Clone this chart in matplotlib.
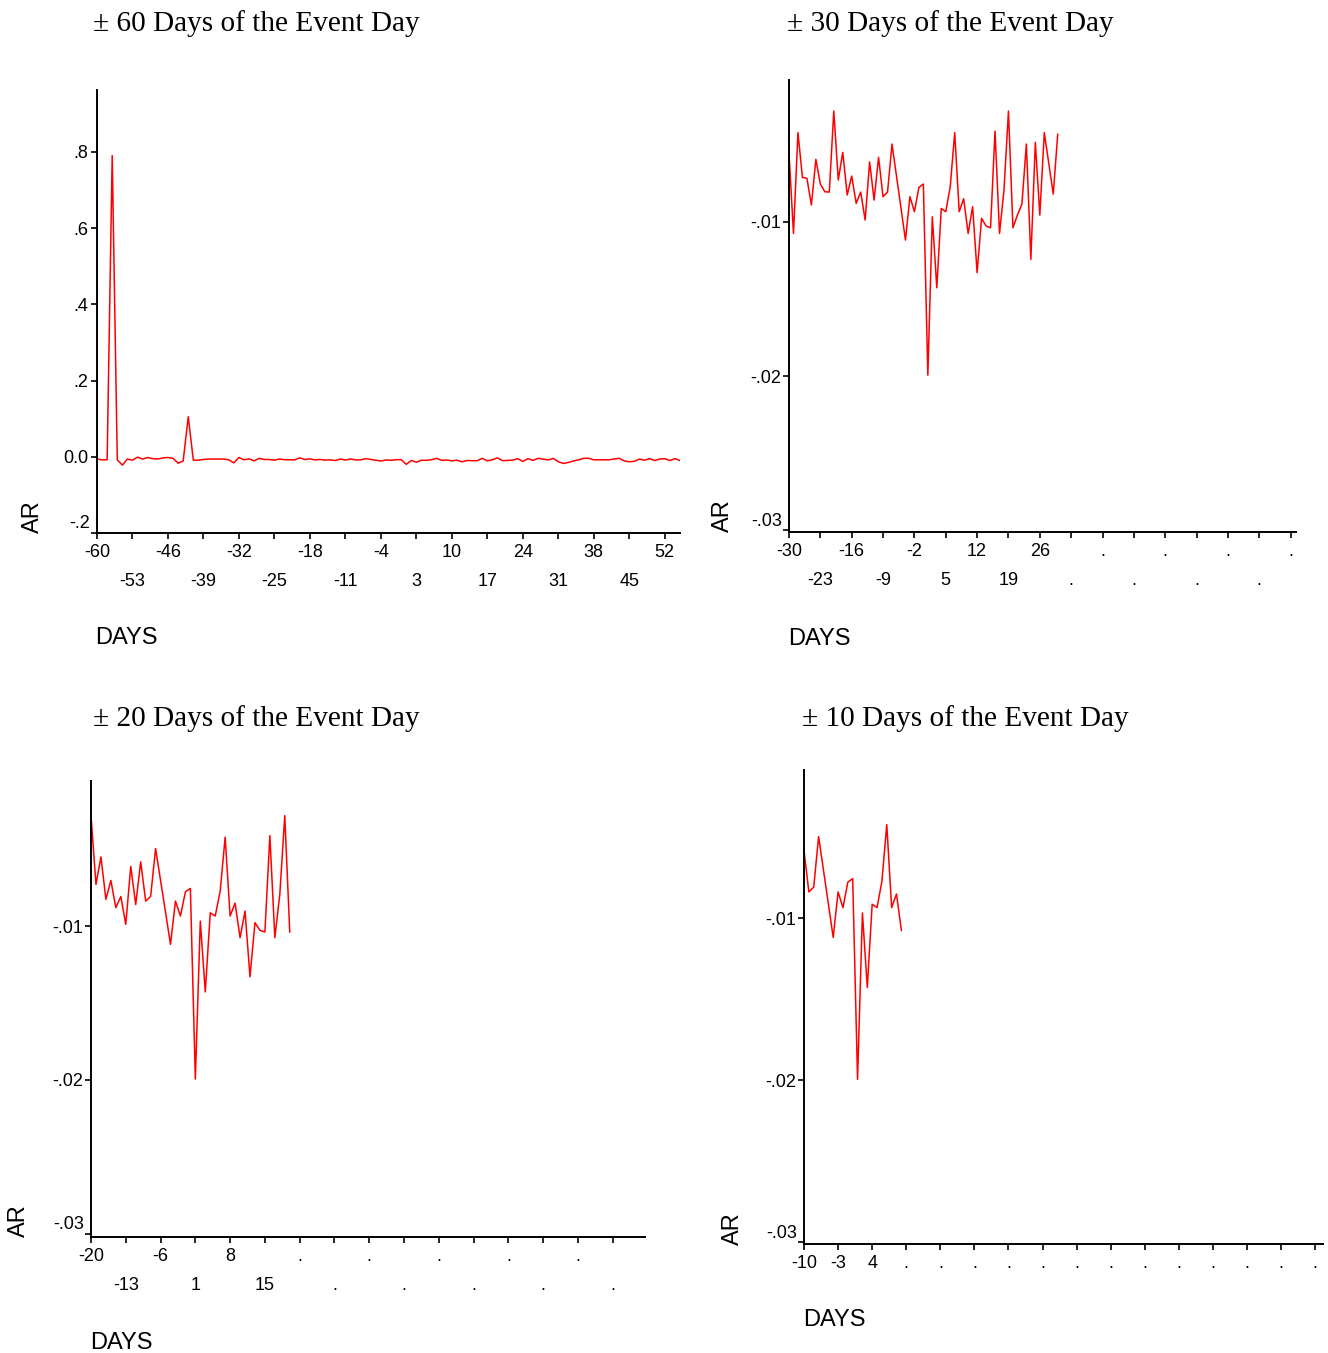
import numpy as np
import matplotlib
matplotlib.use("Agg")
import matplotlib.pyplot as plt

plt.rcParams.update({
    "font.family": ["Liberation Sans", "DejaVu Sans"],
    "axes.linewidth": 1.4,
    "xtick.direction": "out",
    "ytick.direction": "out",
})

# ── Data: daily abnormal returns (AR) ────────────────────────────────
# days -30 ... 30 (shared by the 30 / 20 / 10 day windows)
ar_core = [
    -0.00557, -0.01076, -0.00423, -0.00713, -0.00719, -0.00892, -0.00596,
    -0.00756, -0.00806, -0.00808, -0.00283, -0.00730, -0.00551, -0.00827,
    -0.00704, -0.00881, -0.00808, -0.00989, -0.00613, -0.00860, -0.00583,
    -0.00838, -0.00808, -0.00497, -0.00704, -0.00911, -0.01119, -0.00838,
    -0.00935, -0.00778, -0.00756, -0.01994, -0.00968, -0.01428, -0.00914,
    -0.00935, -0.00773, -0.00423, -0.00935, -0.00851, -0.01076, -0.00903,
    -0.01330, -0.00978, -0.01028, -0.01039, -0.00413, -0.01076, -0.00795,
    -0.00283, -0.01039, -0.00957, -0.00886, -0.00497, -0.01244, -0.00486,
    -0.00957, -0.00423, -0.00622, -0.00821, -0.00434,
]
# days -60 ... -31 (only in the 60 day window)
ar_pre = [
    -0.006, -0.008, -0.008, 0.790, -0.008, -0.022, -0.006, -0.009, -0.001,
    -0.006, -0.002, -0.005, -0.006, -0.003, -0.002, -0.004, -0.017, -0.011,
    0.105, -0.009, -0.009, -0.007, -0.006, -0.006, -0.006, -0.006, -0.008,
    -0.016, -0.002, -0.008,
]
# days 31 ... 55 (only in the 60 day window)
ar_post = [
    -0.013, -0.0175, -0.015, -0.011, -0.008, -0.004, -0.004, -0.008, -0.008,
    -0.008, -0.008, -0.006, -0.004, -0.011, -0.013, -0.012, -0.006, -0.009,
    -0.005, -0.010, -0.006, -0.005, -0.010, -0.005, -0.010,
]

days_60 = np.arange(-60, 56)
ar_60 = np.array(ar_pre + ar_core + ar_post)
days_30 = np.arange(-30, 31)
ar_30 = np.array(ar_core)
days_20 = days_30[10:51]
ar_20 = ar_30[10:51]
days_10 = days_30[20:41]
ar_10 = ar_30[20:41]

W, H = 1328, 1353
fig = plt.figure(figsize=(W / 100, H / 100), dpi=100)


def fx(px):
    return px / W


def fy(py):
    return 1 - py / H


def panel(box, days, ar, xlo, xhi, ylim, yticks, ylabels, stagger,
          title, title_xy, ar_xy, days_xy):
    l, t, r, b = box
    ax = fig.add_axes([fx(l), fy(b), (r - l) / W, (b - t) / H])
    ax.plot(days, ar, color="#FF0000", lw=1.1)
    ax.set_xlim(xlo, xhi)
    ax.set_ylim(*ylim)
    for s in ("top", "right"):
        ax.spines[s].set_visible(False)

    ticks = list(range(xlo, int(xhi) + 1, 7))
    labs = [str(v) if v <= days[-1] else "." for v in ticks]
    if stagger:
        ax.set_xticks(ticks[::2], labs[::2])
        ax.set_xticks(ticks[1::2], labs[1::2], minor=True)
    else:
        ax.set_xticks(ticks, labs)
    ax.tick_params(axis="x", which="both", length=4, width=1.2,
                   labelsize=13, pad=4)
    ax.tick_params(axis="x", which="minor", pad=25)

    # lowest y label sits a little above its tick
    ax.set_yticks(yticks, [""] + ylabels[1:])
    ax.tick_params(axis="y", length=4, width=1.2, labelsize=13, pad=2)
    ax.annotate(ylabels[0], xy=(0, yticks[0]), xycoords=("axes fraction", "data"),
                xytext=(-5, 6.5), textcoords="offset points",
                ha="right", va="center", fontsize=13)

    fig.text(fx(title_xy[0]), fy(title_xy[1] + 2), title, family="Liberation Serif",
             fontsize=21.1, ha="left", va="center")
    fig.text(fx(ar_xy[0]), fy(ar_xy[1]), "AR", rotation=90, fontsize=17,
             ha="center", va="bottom")
    fig.text(fx(days_xy[0]), fy(days_xy[1] + 2), "DAYS", fontsize=17,
             ha="left", va="center")
    return ax


lab_small = ["-.03", "-.02", "-.01"]

panel((97, 90, 680, 533), days_60, ar_60, -60, 55.0, (-0.2, 0.962),
      [-0.2, 0.0, 0.2, 0.4, 0.6, 0.8], ["-.2", "0.0", ".2", ".4", ".6", ".8"],
      True, "\u00b1 60 Days of the Event Day", (93, 22), (33, 533), (95, 636))

panel((789, 80, 1296, 532), days_30, ar_30, -30, 83.2, (-0.0301, -0.00082),
      [-0.03, -0.02, -0.01], lab_small,
      True, "\u00b1 30 Days of the Event Day", (787, 22), (723, 532), (788, 637))

panel((91, 781, 645, 1237), days_20, ar_20, -20, 91.5, (-0.0302, -0.00058),
      [-0.03, -0.02, -0.01], lab_small,
      True, "\u00b1 20 Days of the Event Day", (93, 717), (19, 1237), (90, 1341))

panel((804, 770, 1323, 1244), days_10, ar_10, -10, 96.6, (-0.0301, -0.00086),
      [-0.03, -0.02, -0.01], lab_small,
      False, "\u00b1 10 Days of the Event Day", (802, 717), (733, 1245), (803, 1318))

fig.savefig("out.png", dpi=100)
